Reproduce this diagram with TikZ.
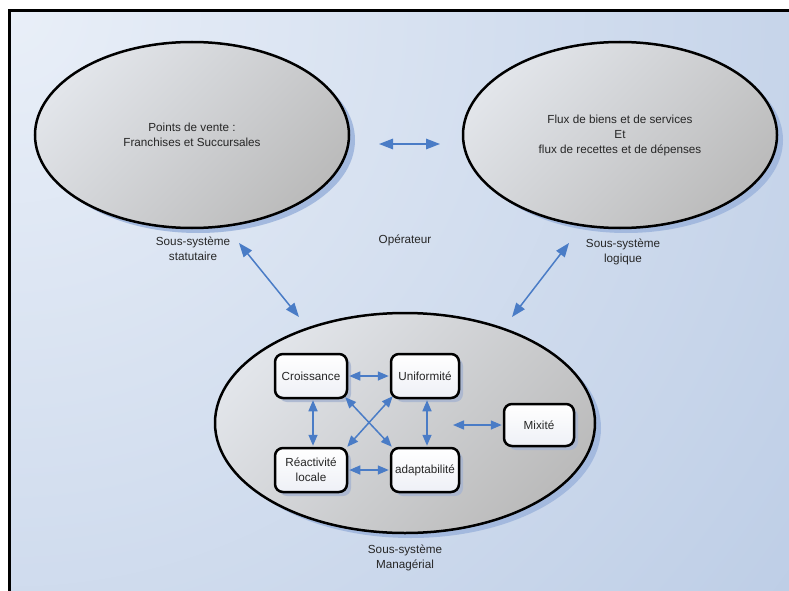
\documentclass[tikz,border=0pt]{standalone}
\usepackage{fontspec}
\setmainfont{Liberation Sans}
\usetikzlibrary{arrows.meta,shapes.geometric,shadows}
\definecolor{bgA}{HTML}{E9EFF8}
\definecolor{bgB}{HTML}{B6C8E3}
\definecolor{ellA}{HTML}{E2E5EA}
\definecolor{ellB}{HTML}{BBBBBB}
\definecolor{shadowblue}{HTML}{A3B9DE}
\definecolor{boxshadow}{HTML}{A8B5D0}
\definecolor{arrowblue}{HTML}{4A7CC6}
\definecolor{boxB}{HTML}{EEF0F6}
\begin{document}
\begin{tikzpicture}[x=1pt,y=-1pt,
  txt/.style={font=\fontsize{11.7}{15}\selectfont, align=center, text=black!85},
  ell/.style={ellipse, draw=black, line width=2.5pt, inner sep=0pt,
    top color=ellA, bottom color=ellB, shading angle=45,
    drop shadow={shadow xshift=6pt, shadow yshift=-5pt, fill=shadowblue, opacity=1}},
  box/.style={rectangle, rounded corners=8pt, draw=black, line width=2.5pt,
    top color=white, bottom color=boxB, txt, inner sep=2pt,
    drop shadow={shadow xshift=4pt, shadow yshift=-4pt, fill=boxshadow, opacity=0.85}},
  arr/.style={draw=arrowblue, line width=1.5pt, {Triangle[length=11pt,width=9pt]}-{Triangle[length=11pt,width=9pt]}},
  bigarr/.style={draw=arrowblue, line width=1.5pt, {Triangle[length=14pt,width=10.5pt]}-{Triangle[length=14pt,width=10.5pt]}}
]
\useasboundingbox (0,0) rectangle (789,591);
\clip (0,0) rectangle (789,591);
% background
\begin{scope}
\clip (9,11) rectangle (800,600);
\fill[bgB] (9,11) rectangle (800,600);
\path[inner color=bgA, outer color=bgB] (9,11) circle (1150);
\end{scope}
\draw[line width=3pt] (9,600) -- (9,11) -- (800,11);

% ellipses
\node[ell, minimum width=314pt, minimum height=186pt, txt] (pv) at (192,135)
  {Points de vente :\\Franchises et Succursales};
\node[ell, minimum width=314pt, minimum height=186pt, txt] (fl) at (620,135)
  {Flux de biens et de services\\Et\\flux de recettes et de dépenses};
\node[ell, minimum width=380pt, minimum height=220pt] (ma) at (405,423) {};

% labels
\node[txt] (lstat) at (193,249) {Sous-système\\statutaire};
\node[txt] (lop) at (405,240) {Opérateur};
\node[txt] (llog) at (623,252) {Sous-système\\logique};
\node[txt] (lman) at (405,558) {Sous-système\\Managérial};

% boxes
\node[box, minimum width=72pt, minimum height=44pt] (cro) at (311,376) {Croissance};
\node[box, minimum width=68pt, minimum height=44pt] (uni) at (425,376) {Uniformité};
\node[box, minimum width=72pt, minimum height=44pt] (rea) at (311,470) {Réactivité\\locale};
\node[box, minimum width=68pt, minimum height=44pt] (ada) at (425,470) {adaptabilité};
\node[box, minimum width=70pt, minimum height=42pt] (mix) at (539,425) {Mixité};

% free arrow ends
\coordinate (t1) at (379,144);
\coordinate (t2) at (440,144);
\coordinate (d1a) at (239,243);
\coordinate (d1b) at (299,317);
\coordinate (d2a) at (569,243);
\coordinate (d2b) at (512,317);
\coordinate (mx) at (453,425);

% connectors
\draw[bigarr] (t1) -- (t2);
\draw[bigarr] (d1a) -- (d1b);
\draw[bigarr] (d2a) -- (d2b);
\draw[arr, shorten <=1pt, shorten >=1pt] (cro.east) -- (uni.west);
\draw[arr, shorten <=1pt, shorten >=1pt] (rea.east) -- (ada.west);
\draw[arr, shorten <=1pt, shorten >=1pt] ([xshift=2pt]cro.south) -- ([xshift=2pt]rea.north);
\draw[arr, shorten <=1pt, shorten >=1pt] ([xshift=2pt]uni.south) -- ([xshift=2pt]ada.north);
\draw[arr] ([shift={(-3,-2)}]cro.south east) -- ([shift={(2,0)}]ada.north west);
\draw[arr] ([shift={(3,-3)}]uni.south west) -- ([shift={(-1,0)}]rea.north east);
\draw[arr, shorten >=1pt] (mx) -- (mix.west);
\end{tikzpicture}
\end{document}
